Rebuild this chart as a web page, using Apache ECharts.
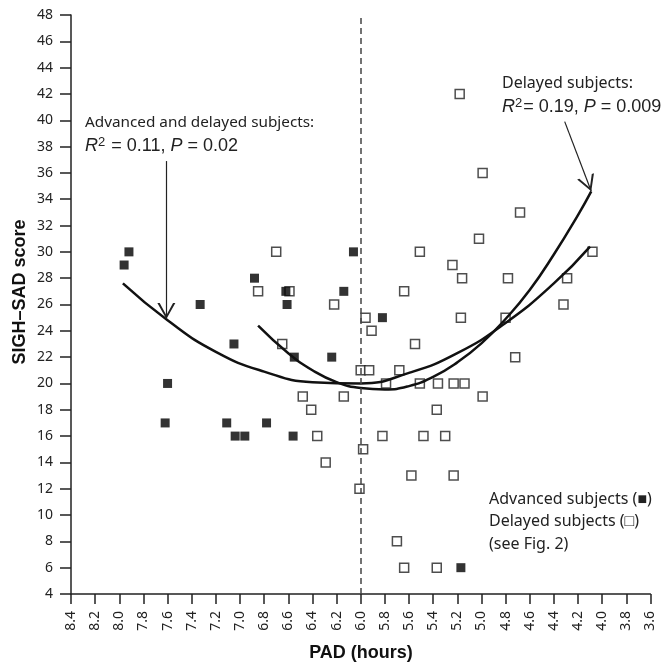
<!DOCTYPE html>
<html>
<head>
<meta charset="utf-8">
<script src="https://cdn.jsdelivr.net/npm/echarts@6/dist/echarts.min.js"></script>
<style>
  html, body { margin: 0; padding: 0; background: #fff; }
  #chart { width: 669px; height: 664px; }
</style>
</head>
<body>
<div id="chart"></div>
<script>
// advanced subjects (filled squares)
var advPAD   = [7.92, 7.96, 7.33, 7.60, 7.62, 6.88, 6.62, 6.61, 7.05, 6.55, 7.11, 6.78, 7.04, 6.96, 6.56, 6.06, 6.14, 6.24, 5.82, 5.17];
var advScore = [30,   29,   26,   20,   17,   28,   27,   26,   23,   22,   17,   17,   16,   16,   16,   30,   27,   22,   25,   6];

// delayed subjects (open squares)
var delPAD   = [6.70, 6.85, 6.59, 6.22, 6.65, 6.48, 6.14, 6.41, 6.36, 6.29, 6.01, 6.00, 5.93, 5.68, 5.96, 5.91,
                5.55, 5.64, 5.51, 5.24, 5.16, 4.78, 4.29, 4.08, 4.32, 5.17, 4.80, 4.72, 5.79, 5.51, 5.36, 5.23,
                5.14, 4.99, 5.37, 5.82, 5.48, 5.30, 5.98, 5.58, 5.23, 5.70, 5.64, 5.37, 5.18, 4.99, 4.68, 5.02];
var delScore = [30, 27, 27, 26, 23, 19, 19, 18, 16, 14, 12, 21, 21, 21, 25, 24,
                23, 27, 30, 29, 28, 28, 28, 30, 26, 25, 25, 22, 20, 20, 20, 20,
                20, 19, 18, 16, 16, 16, 15, 13, 13, 8, 6, 6, 42, 36, 33, 31];

// fitted curve, advanced and delayed subjects
var fitAllPAD   = [7.97, 7.6, 7.2, 6.8, 6.4, 6.0, 5.6, 5.2, 4.8, 4.4, 4.1];
var fitAllScore = [27.6, 24.8, 22.4, 20.9, 20.1, 20.0, 20.8, 22.3, 24.6, 27.6, 30.4];

// fitted curve, delayed subjects
var fitDelPAD   = [6.85, 6.6, 6.4, 6.2, 6.0, 5.8, 5.6, 5.4, 5.2, 5.0, 4.8, 4.6, 4.4, 4.2, 4.09];
var fitDelScore = [24.4, 22.3, 21.0, 20.1, 19.65, 19.55, 19.8, 20.5, 21.6, 23.05, 24.9, 27.1, 29.8, 32.8, 34.6];

// arrows from the two labels to the curves: [PAD, score] start and end
var arrowAll = [[7.61, 36.9], [7.61, 24.9]];
var arrowDel = [[4.31, 39.9], [4.09, 34.6]];

function zip(a, b) { return a.map(function (v, i) { return [v, b[i]]; }); }

// open arrow head, tip sits in the middle of the symbol box
var chevron = 'path://M5,0 L5.01,0 L5,0.01 Z M0,20 L5,10 L10,20 L8.7,20 L5,12.4 L1.3,20 Z';

var myChart = echarts.init(document.getElementById('chart'));
var tickFont = { fontFamily: 'Noto Sans', fontSize: 14, color: '#222' };
var rRich = {
  i: { font: 'italic 18px "Liberation Sans"', fill: '#222' },
  sup: { font: '13px "Liberation Sans"', padding: [0, 1, 8, 0] }
};

myChart.setOption({
  animation: false,
  grid: { left: 71, right: 18.6, top: 15, bottom: 70 },
  xAxis: {
    type: 'value',
    inverse: true,
    min: 3.6,
    max: 8.4,
    interval: 0.2,
    axisLine: { onZero: false, lineStyle: { color: '#222', width: 1.5 } },
    axisTick: { length: 10, lineStyle: { color: '#222', width: 1.5 } },
    axisLabel: Object.assign({ rotate: 90, margin: 17, formatter: function (v) { return v.toFixed(1); } }, tickFont),
    splitLine: { show: false }
  },
  yAxis: {
    type: 'value',
    min: 4,
    max: 48,
    interval: 2,
    axisLine: { show: true, onZero: false, lineStyle: { color: '#222', width: 1.5 } },
    axisTick: { show: true, length: 11, lineStyle: { color: '#222', width: 1.5 } },
    axisLabel: Object.assign({ margin: 18 }, tickFont),
    splitLine: { show: false }
  },
  graphic: [
    { type: 'text', x: 361, y: 653, style: { text: 'PAD (hours)', font: 'bold 18px "Liberation Sans"', fill: '#111', align: 'center', verticalAlign: 'middle' } },
    { type: 'text', x: 20, y: 292, rotation: Math.PI / 2, style: { text: 'SIGH\u2013SAD score', font: 'bold 18px "Liberation Sans"', fill: '#111', align: 'center', verticalAlign: 'middle' } },
    { type: 'text', x: 85, y: 123, style: { text: 'Advanced and delayed subjects:', font: '15.3px "Noto Sans"', fill: '#222', verticalAlign: 'middle' } },
    { type: 'text', x: 85, y: 146, style: {
        text: '{i|R}{sup|2} = 0.11, {i|P} = 0.02',
        font: '18px "Liberation Sans"', fill: '#222', verticalAlign: 'middle', rich: rRich } },
    { type: 'text', x: 502, y: 83, style: { text: 'Delayed subjects:', font: '16px "Noto Sans"', fill: '#222', verticalAlign: 'middle' } },
    { type: 'text', x: 502, y: 107, style: {
        text: '{i|R}{sup|2}= 0.19, {i|P} = 0.009',
        font: '18px "Liberation Sans"', fill: '#222', verticalAlign: 'middle', rich: rRich } },
    { type: 'text', x: 489, y: 499, style: { text: 'Advanced subjects (\u25a0)', font: '16px "Noto Sans"', fill: '#222', verticalAlign: 'middle' } },
    { type: 'text', x: 489, y: 521, style: { text: 'Delayed subjects (\u25a1)', font: '16px "Noto Sans"', fill: '#222', verticalAlign: 'middle' } },
    { type: 'text', x: 489, y: 544, style: { text: '(see Fig. 2)', font: '16px "Noto Sans"', fill: '#222', verticalAlign: 'middle' } }
  ],
  series: [
    {
      name: 'All subjects fit',
      type: 'line',
      smooth: true,
      showSymbol: false,
      data: zip(fitAllPAD, fitAllScore),
      lineStyle: { color: '#111', width: 2.5 },
      markLine: {
        silent: true,
        symbol: ['none', 'none'],
        label: { show: false },
        lineStyle: { color: '#444', width: 1.5, type: [6, 4] },
        data: [{ xAxis: 6.0 }]
      }
    },
    {
      name: 'Delayed fit',
      type: 'line',
      smooth: true,
      showSymbol: false,
      data: zip(fitDelPAD, fitDelScore),
      lineStyle: { color: '#111', width: 2.5 },
      markLine: {
        silent: true,
        symbol: ['none', chevron],
        symbolSize: [18, 32],
        label: { show: false },
        lineStyle: { color: '#222', width: 1.2, type: 'solid' },
        data: [
          [{ coord: arrowAll[0] }, { coord: arrowAll[1] }],
          [{ coord: arrowDel[0] }, { coord: arrowDel[1] }]
        ]
      }
    },
    {
      name: 'Delayed subjects',
      type: 'scatter',
      symbol: 'rect',
      symbolSize: 9,
      data: zip(delPAD, delScore),
      itemStyle: { color: '#fff', borderColor: '#222', borderWidth: 1.5 }
    },
    {
      name: 'Advanced subjects',
      type: 'scatter',
      symbol: 'rect',
      symbolSize: 9,
      data: zip(advPAD, advScore),
      itemStyle: { color: '#000' }
    }
  ]
});
</script>
</body>
</html>
